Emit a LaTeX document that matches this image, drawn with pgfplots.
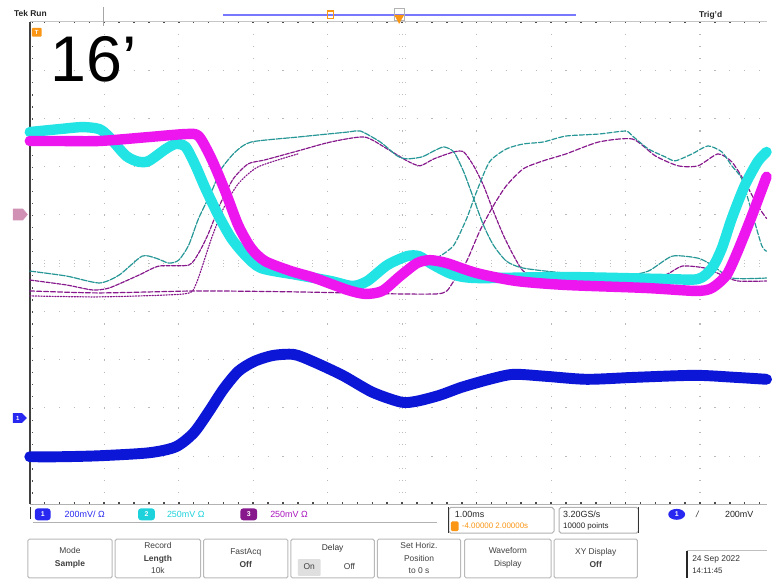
\documentclass[border=0pt]{standalone}
\usepackage{pgfplots}
\pgfplotsset{compat=1.18}
\usepackage{fontspec}
\setmainfont{Liberation Sans}
\definecolor{cyanT}{RGB}{35,228,228}
\definecolor{magT}{RGB}{238,22,238}
\definecolor{tealT}{RGB}{38,150,150}
\definecolor{purT}{RGB}{135,25,140}
\definecolor{blueT}{RGB}{12,22,215}
\definecolor{orangeT}{RGB}{250,150,20}
\definecolor{barblue}{RGB}{120,120,255}
\definecolor{ch1}{RGB}{40,40,240}
\definecolor{ch2}{RGB}{30,210,220}
\definecolor{ch3}{RGB}{170,20,190}
\begin{document}
\begin{tikzpicture}
\begin{axis}[
  scale only axis, width=772pt, height=590pt,
  xmin=0, xmax=772, ymin=0, ymax=590, y dir=reverse,
  hide axis, clip=false,
  every axis plot/.append style={no markers, line join=round, line cap=round},
]
% background
\fill[white] (axis cs:0,0) rectangle (axis cs:772,590);

% ---------- graticule ----------
\foreach \yy in {70.6,119.2,167.8,216.4,265,313.6,362.2,410.8,459.4}{
  \edef\tmp{\noexpand\draw[gray!55, line width=1.1pt, dash pattern=on 1.1pt off 13.9pt] (axis cs:29.5,\yy) -- (axis cs:772,\yy);}\tmp
}
\foreach \xx in {105,180,255,330,405,480,555,630,705}{
  \edef\tmp{\noexpand\draw[gray!55, line width=1.1pt, dash pattern=on 1.1pt off 11.05pt] (axis cs:\xx,22) -- (axis cs:\xx,508);}\tmp
}
% center cross minor ticks
\draw[gray!45, line width=0.9pt, dash pattern=on 1pt off 14pt] (axis cs:29.5,262) -- (axis cs:772,262);
\draw[gray!45, line width=0.9pt, dash pattern=on 1pt off 14pt] (axis cs:29.5,268) -- (axis cs:772,268);
\draw[gray!45, line width=0.9pt, dash pattern=on 1pt off 11.15pt] (axis cs:402,22) -- (axis cs:402,508);
\draw[gray!45, line width=0.9pt, dash pattern=on 1pt off 11.15pt] (axis cs:408,22) -- (axis cs:408,508);
% borders
\draw[gray!45, line width=1pt] (axis cs:30,22) -- (axis cs:772,22);
\draw[black!70, line width=1.3pt, dash pattern=on 1.6pt off 13.4pt] (axis cs:29.2,22.5) -- (axis cs:772,22.5);
\draw[gray!60, line width=1pt] (axis cs:30,508) -- (axis cs:772,508);
\draw[black!70, line width=1.3pt, dash pattern=on 1.6pt off 13.4pt] (axis cs:29.2,506.5) -- (axis cs:772,506.5);
\draw[black!75, line width=1.5pt] (axis cs:30,22) -- (axis cs:30,508);
\draw[black!70, line width=1.2pt, dash pattern=on 1.3pt off 10.85pt] (axis cs:33,22) -- (axis cs:33,508);

% ---------- persistence (thin) traces ----------
\addplot[purT, line width=1.2pt, dash pattern=on 1.2pt off 1.6pt, smooth, tension=0.4] coordinates {
(30,298)(100,299)(185,296)(197,287)(213,240)(225,210)(240,185)(260,168)(300,155)};
\addplot[purT, line width=1.2pt, dash pattern=on 5pt off 2pt, smooth, tension=0.4] coordinates {
(30,293)(100,295)(200,293)(300,294)(400,296)(440,296)(450,293)(457,283)(470,263)(483,233)(497,207)(510,187)(527,170)(547,162)(570,155)(603,143)(637,140)(660,157)(683,167)(703,167)(723,155)(737,163)(750,183)(763,207)(772,220)};
\addplot[purT, line width=1.2pt, dash pattern=on 4pt off 1.5pt, smooth, tension=0.4] coordinates {
(30,282)(67,287)(93,292)(110,290)(140,277)(160,268)(190,267)(200,255)(210,235)(222,205)(235,180)(250,165)(267,161)(300,152)(333,143)(367,138)(390,150)(410,162)(423,167)(437,160)(457,153)(467,153)(477,167)(487,187)(497,213)(507,237)(517,257)(527,273)(543,280)(570,283)(640,284)(670,277)(687,268)(710,270)(727,277)(743,283)(772,283)};
\addplot[tealT, line width=1.2pt, dash pattern=on 6pt off 1.5pt, smooth, tension=0.4] coordinates {
(30,273)(67,278)(100,285)(120,277)(143,258)(157,260)(170,265)(180,262)(190,247)(200,220)(213,193)(223,170)(237,153)(253,143)(300,138)(350,133)(363,132)(383,143)(400,157)(410,160)(425,158)(437,152)(447,148)(457,153)(467,173)(477,200)(487,227)(497,247)(510,263)(527,270)(570,275)(630,277)(653,273)(677,258)(703,260)(717,267)(737,280)(772,280)};
\addplot[tealT, line width=1.2pt, dash pattern=on 5pt off 2pt, smooth, tension=0.4] coordinates {
(405,259)(420,258)(435,261)(443,258)(457,247)(470,220)(480,193)(493,163)(510,150)(527,145)(547,143)(570,137)(603,135)(630,132)(637,137)(653,150)(670,158)(680,162)(697,155)(713,147)(727,153)(737,167)(747,180)(757,213)(767,247)(772,253)};

% ---------- thick traces ----------
\addplot[cyanT, line width=10.5pt, smooth, tension=0.45] coordinates {
(30,133)(60,130)(83,128)(100,130)(110,138)(127,157)(140,163)(150,162)(167,150)(177,145)(187,148)(197,167)(207,190)(220,217)(233,240)(247,257)(263,270)(300,277)(333,283)(355,288)(370,283)(390,267)(410,258)(422,258)(435,266)(455,276)(480,280)(570,279)(670,281)(703,281)(717,270)(727,250)(737,220)(750,187)(763,163)(772,153)};
\addplot[magT, line width=10.5pt, smooth, tension=0.45] coordinates {
(30,142)(60,142)(100,142)(150,138)(187,135)(200,137)(213,160)(227,193)(240,227)(253,250)(267,263)(293,273)(317,280)(350,292)(368,296)(385,293)(403,278)(420,265)(433,262)(450,265)(480,275)(520,283)(570,287)(650,290)(700,293)(715,291)(725,284)(733,275)(743,253)(757,218)(772,178)};
\addplot[blueT, line width=11pt, smooth, tension=0.45] coordinates {
(30,460)(60,460)(100,459)(150,456)(177,450)(195,436)(210,415)(225,392)(240,374)(256,364)(275,358)(296,357)(315,364)(345,378)(375,395)(404,405)(420,404)(443,398)(465,390)(493,382)(517,377)(550,379)(591,382)(640,380)(700,378)(740,380)(772,382)};

% ---------- top bar ----------
\node[anchor=west, inner sep=0pt, font=\fontsize{8.5}{9}\selectfont\bfseries, text=black!85] at (axis cs:14,14) {Tek Run};
\draw[gray!70, line width=1.3pt] (axis cs:104,7) -- (axis cs:104,26);
\draw[barblue, line width=2.2pt] (axis cs:225,15) -- (axis cs:580,15);
\draw[orangeT, line width=1.2pt] (axis cs:330,11) rectangle (axis cs:336,19);
\draw[gray!60, line width=0.8pt] (axis cs:397,8) rectangle (axis cs:407,21);
\fill[orangeT] (axis cs:397,15) -- (axis cs:407,15) -- (axis cs:402,24) -- cycle;
\node[anchor=west, inner sep=0pt, font=\fontsize{8.5}{9}\selectfont\bfseries, text=black!85] at (axis cs:704,15) {Trig’d};
\fill[orangeT, rounded corners=1pt] (axis cs:32,28) rectangle (axis cs:42,37);
\node[inner sep=0pt, font=\fontsize{6}{6}\selectfont\bfseries, text=white] at (axis cs:37,32.5) {T};

% big label
\node[anchor=base west, inner sep=0pt, font=\fontsize{65}{65}\selectfont] at (axis cs:51,82) {16’};

% channel markers on left
\fill[gray!55!magenta!70!white] (axis cs:13,210) -- (axis cs:23,210) -- (axis cs:28,216) -- (axis cs:23,222) -- (axis cs:13,222) -- cycle;
\fill[ch1] (axis cs:13,416) -- (axis cs:22,416) -- (axis cs:27,421) -- (axis cs:22,426) -- (axis cs:13,426) -- cycle;
\node[inner sep=0pt, font=\fontsize{6}{6}\selectfont\bfseries, text=white] at (axis cs:18,421) {1};

% ---------- status row ----------
\draw[black!80, line width=1.2pt] (axis cs:31,511) -- (axis cs:31,523);
\draw[gray!60, line width=1pt] (axis cs:33,526) -- (axis cs:440,526);
\fill[ch1, rounded corners=3pt] (axis cs:35,512) rectangle (axis cs:51,524);
\node[inner sep=0pt, font=\fontsize{7}{7}\selectfont\bfseries, text=white] at (axis cs:43,518) {1};
\node[anchor=west, inner sep=0pt, font=\fontsize{9}{9}\selectfont, text=ch1] at (axis cs:65,518) {200mV/ Ω};
\fill[ch2, rounded corners=3pt] (axis cs:139,512) rectangle (axis cs:156,524);
\node[inner sep=0pt, font=\fontsize{7}{7}\selectfont\bfseries, text=white] at (axis cs:147.5,518) {2};
\node[anchor=west, inner sep=0pt, font=\fontsize{9}{9}\selectfont, text=ch2] at (axis cs:168,518) {250mV Ω};
\fill[purT, rounded corners=3pt] (axis cs:242,512) rectangle (axis cs:259,524);
\node[inner sep=0pt, font=\fontsize{7}{7}\selectfont\bfseries, text=white] at (axis cs:250.5,518) {3};
\node[anchor=west, inner sep=0pt, font=\fontsize{9}{9}\selectfont, text=ch3] at (axis cs:272,518) {250mV Ω};

\draw[gray!60, line width=1pt, rounded corners=2pt] (axis cs:452,511) rectangle (axis cs:558,537);
\draw[black!80, line width=1.2pt] (axis cs:452,511) -- (axis cs:452,537);
\node[anchor=west, inner sep=0pt, font=\fontsize{9}{9}\selectfont, text=black!85] at (axis cs:458,518) {1.00ms};
\fill[orangeT, rounded corners=1.5pt] (axis cs:454,525) rectangle (axis cs:462,535);
\node[anchor=west, inner sep=0pt, font=\fontsize{8}{9}\selectfont, text=orangeT] at (axis cs:465,530) {-4.00000 2.00000s};
\draw[gray!60, line width=1pt, rounded corners=2pt] (axis cs:563,511) rectangle (axis cs:643,537);
\draw[black!80, line width=1.2pt] (axis cs:643,511) -- (axis cs:643,537);
\node[anchor=west, inner sep=0pt, font=\fontsize{9}{9}\selectfont, text=black!85] at (axis cs:567,518) {3.20GS/s};
\node[anchor=west, inner sep=0pt, font=\fontsize{8}{9}\selectfont, text=black!85] at (axis cs:567,530) {10000 points};
\fill[ch1] (axis cs:681.5,518) ellipse [x radius=8.5pt, y radius=5.5pt];
\node[inner sep=0pt, font=\fontsize{7}{7}\selectfont\bfseries, text=white] at (axis cs:681.5,518) {1};
\node[anchor=west, inner sep=0pt, font=\fontsize{9}{9}\selectfont\itshape, text=black!80] at (axis cs:701,518) {/};
\node[anchor=west, inner sep=0pt, font=\fontsize{9}{9}\selectfont, text=black!85] at (axis cs:730,518) {200mV};

% ---------- menu buttons ----------
\draw[gray!55, line width=1pt, rounded corners=1.5pt] (axis cs:28,543) rectangle (axis cs:113,582);
\draw[gray!55, line width=1pt, rounded corners=1.5pt] (axis cs:116,543) rectangle (axis cs:202,582);
\draw[gray!55, line width=1pt, rounded corners=1.5pt] (axis cs:205,543) rectangle (axis cs:290,582);
\draw[gray!55, line width=1pt, rounded corners=1.5pt] (axis cs:293,543) rectangle (axis cs:377,582);
\draw[gray!55, line width=1pt, rounded corners=1.5pt] (axis cs:380,543) rectangle (axis cs:464,582);
\draw[gray!55, line width=1pt, rounded corners=1.5pt] (axis cs:468,543) rectangle (axis cs:555,582);
\draw[gray!55, line width=1pt, rounded corners=1.5pt] (axis cs:558,543) rectangle (axis cs:642,582);

\node[align=center, inner sep=0pt, font=\fontsize{8.5}{13}\selectfont, text=black!75] at (axis cs:70.5,562) {Mode\\\textbf{Sample}};
\node[align=center, inner sep=0pt, font=\fontsize{8.5}{13}\selectfont, text=black!75] at (axis cs:159,562) {Record\\\textbf{Length}\\10k};
\node[align=center, inner sep=0pt, font=\fontsize{8.5}{13}\selectfont, text=black!75] at (axis cs:247.5,562) {FastAcq\\\textbf{Off}};
\node[inner sep=0pt, font=\fontsize{8.5}{9}\selectfont, text=black!80] at (axis cs:335,552) {Delay};
\fill[gray!25, rounded corners=1pt] (axis cs:300,563) rectangle (axis cs:323,580);
\node[inner sep=0pt, font=\fontsize{8.5}{9}\selectfont, text=black!75] at (axis cs:311.5,571) {On};
\node[inner sep=0pt, font=\fontsize{8.5}{9}\selectfont, text=black!75] at (axis cs:352,571) {Off};
\node[align=center, inner sep=0pt, font=\fontsize{8.5}{13}\selectfont, text=black!75] at (axis cs:422,562) {Set Horiz.\\Position\\to 0 s};
\node[align=center, inner sep=0pt, font=\fontsize{8.5}{13}\selectfont, text=black!75] at (axis cs:511.5,562) {Waveform\\Display};
\node[align=center, inner sep=0pt, font=\fontsize{8.5}{13}\selectfont, text=black!75] at (axis cs:600,562) {XY Display\\\textbf{Off}};

% date box
\draw[gray!50, line width=0.8pt] (axis cs:692,554) -- (axis cs:772,554);
\draw[black!85, line width=1.5pt] (axis cs:692,555) -- (axis cs:692,582);
\node[anchor=west, inner sep=0pt, font=\fontsize{8.5}{9}\selectfont, text=black!80] at (axis cs:697,563) {24 Sep 2022};
\node[anchor=west, inner sep=0pt, font=\fontsize{8}{9}\selectfont, text=black!80] at (axis cs:697,575) {14:11:45};
\end{axis}
\end{tikzpicture}
\end{document}
